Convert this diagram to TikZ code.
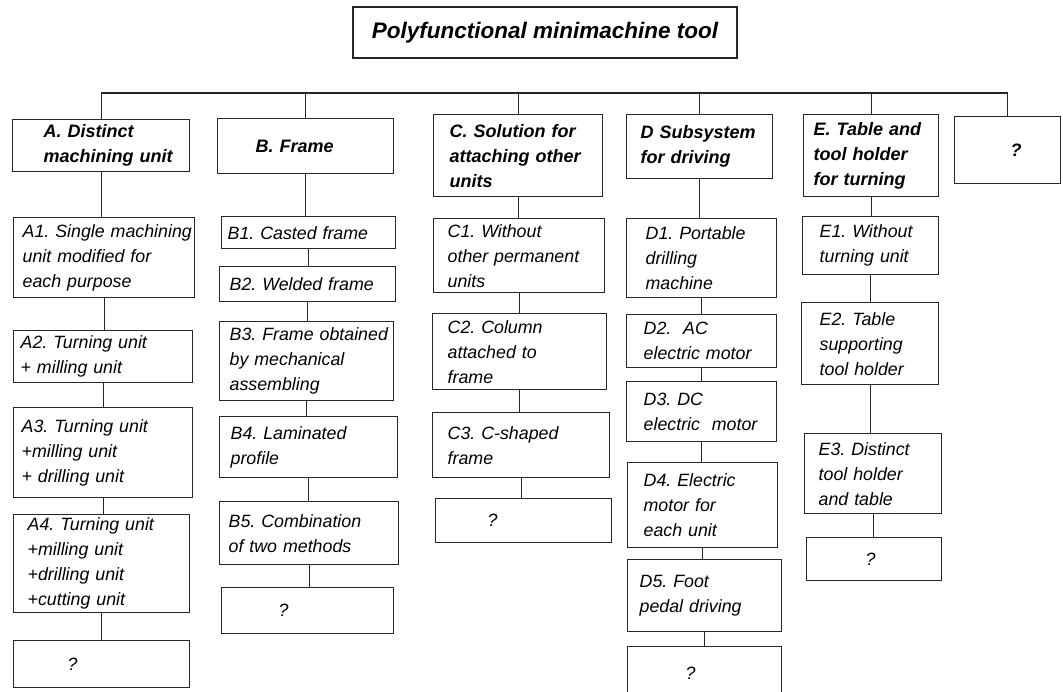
\documentclass[tikz,border=0pt]{standalone}
\usepackage{fontspec}
\setmainfont{Liberation Sans}
\frenchspacing
\hyphenpenalty=10000

\begin{document}
\begin{tikzpicture}[x=1pt, y=-1pt,
	box/.style={draw=black!85, line width=1.3pt, rectangle, inner xsep=0pt, inner ysep=2pt, align=left, anchor=north west},
	head/.style={box, font=\fontsize{18}{25}\selectfont\bfseries\itshape},
	item/.style={box, font=\fontsize{17.8}{25}\selectfont\itshape},
	sz/.style 2 args={minimum width=#1, minimum height=#2, text width=#1-4},
	ind/.style={execute at begin node={\leftskip=#1pt}},
	link/.style={draw=black!85, line width=1.3pt}
	]
	\useasboundingbox (0,0) rectangle (1063,691);

	\node (top) [box, align=center, font=\fontsize{22.5}{27}\selectfont\bfseries\itshape, anchor=center,
		minimum width=384, minimum height=51] at (545,32.5) {Polyfunctional minimachine tool};
	\coordinate (bus) at (0,93);

	% first level
	\node (a) [head, sz={177}{52}, ind=29] at (12,119) {A. Distinct\\machining unit};
	\node (b) [head, sz={176}{55}, ind=36] at (217,118) {B. Frame};
	\node (c) [head, sz={169}{82}, ind=14] at (433,114) {C. Solution for\\attaching other\\units};
	\node (d) [head, sz={146}{64}, ind=12] at (626,114) {D Subsystem\\for driving};
	\node (e) [head, sz={135}{82}, ind=8] at (803,114) {E. Table and\\tool holder\\for turning};
	\node (q) [head, sz={106}{67}, ind=54] at (954,116) {?};

	% column A
	\node (a1) [item, sz={181}{80}, ind=7] at (13,217) {A1. Single machining\\unit modified for\\each purpose};
	\node (a2) [item, sz={179}{52}, ind=5] at (13,330) {A2. Turning unit\\+ milling unit};
	\node (a3) [item, sz={179}{90}, ind=6] at (13,407) {A3. Turning unit\\+milling unit\\+ drilling unit};
	\node (a4) [item, sz={176}{98}, ind=12] at (13,514) {A4. Turning unit\\+milling unit\\+drilling unit\\+cutting unit};
	\node (aq) [item, sz={176}{47}, ind=52] at (13,640) {?};

	% column B
	\node (b1) [item, sz={174}{32}, ind=4] at (221,216) {B1. Casted frame};
	\node (b2) [item, sz={176}{35}, ind=8] at (219,266) {B2. Welded frame};
	\node (b3) [item, sz={174}{79}, ind=8] at (219,321) {B3. Frame obtained\\by mechanical\\assembling};
	\node (b4) [item, sz={178}{61}, ind=9] at (219,416) {B4. Laminated\\profile};
	\node (b5) [item, sz={179}{63}, ind=7] at (219,501) {B5. Combination\\of two methods};
	\node (bq) [item, sz={172}{46}, ind=55] at (221,587) {?};

	% column C
	\node (c1) [item, sz={171}{74}, ind=12] at (433,218) {C1. Without\\other permanent\\units};
	\node (c2) [item, sz={174}{76}, ind=13] at (432,313) {C2. Column\\attached to\\frame};
	\node (c3) [item, sz={177}{65}, ind=13] at (432,412) {C3. C-shaped\\frame};
	\node (cq) [item, sz={176}{44}, ind=50] at (435,498) {?};

	% column D
	\node (d1) [item, sz={150}{79}, ind=17] at (626,218) {D1. Portable\\drilling\\machine};
	\node (d2) [item, sz={150}{53}, ind=15] at (626,314) {D2.\ \ AC\\electric motor};
	\node (d3) [item, sz={150}{60}, ind=15] at (626,381) {D3. DC\\electric\ \ motor};
	\node (d4) [item, sz={150}{85}, ind=14] at (627,462) {D4. Electric\\motor for\\each unit};
	\node (d5) [item, sz={154}{72}, ind=10] at (627,559) {D5. Foot\\pedal driving};
	\node (dq) [item, sz={154}{54}, ind=56] at (627,646) {?};

	% column E
	\node (e1) [item, sz={136}{58}, ind=15] at (802,216) {E1. Without\\turning unit};
	\node (e2) [item, sz={137}{82}, ind=16] at (801,302) {E2. Table\\supporting\\tool holder};
	\node (e3) [item, sz={137}{80}, ind=12] at (804,433) {E3. Distinct\\tool holder\\and table};
	\node (eq) [item, sz={135}{43}, ind=57] at (806,537) {?};

	% bus line
	\draw [link] (a.north) -- (a.north |- bus) -- (q.north |- bus) -- (q.north);
	\foreach \h in {b,c,d,e}
		\draw [link] (\h.north) -- (\h.north |- bus);

	% columns
	\foreach \u/\v in {a/a1,a1/a2,a2/a3,a3/a4,a4/aq,
		b/b1,b1/b2,b2/b3,b3/b4,b4/b5,b5/bq,
		c/c1,c1/c2,c2/c3,c3/cq,
		d/d1,d1/d2,d2/d3,d3/d4,d4/d5,d5/dq,
		e/e1,e1/e2,e2/e3,e3/eq}
		\draw [link] (\u.south) -- (\u.south |- \v.north);

\end{tikzpicture}
\end{document}
